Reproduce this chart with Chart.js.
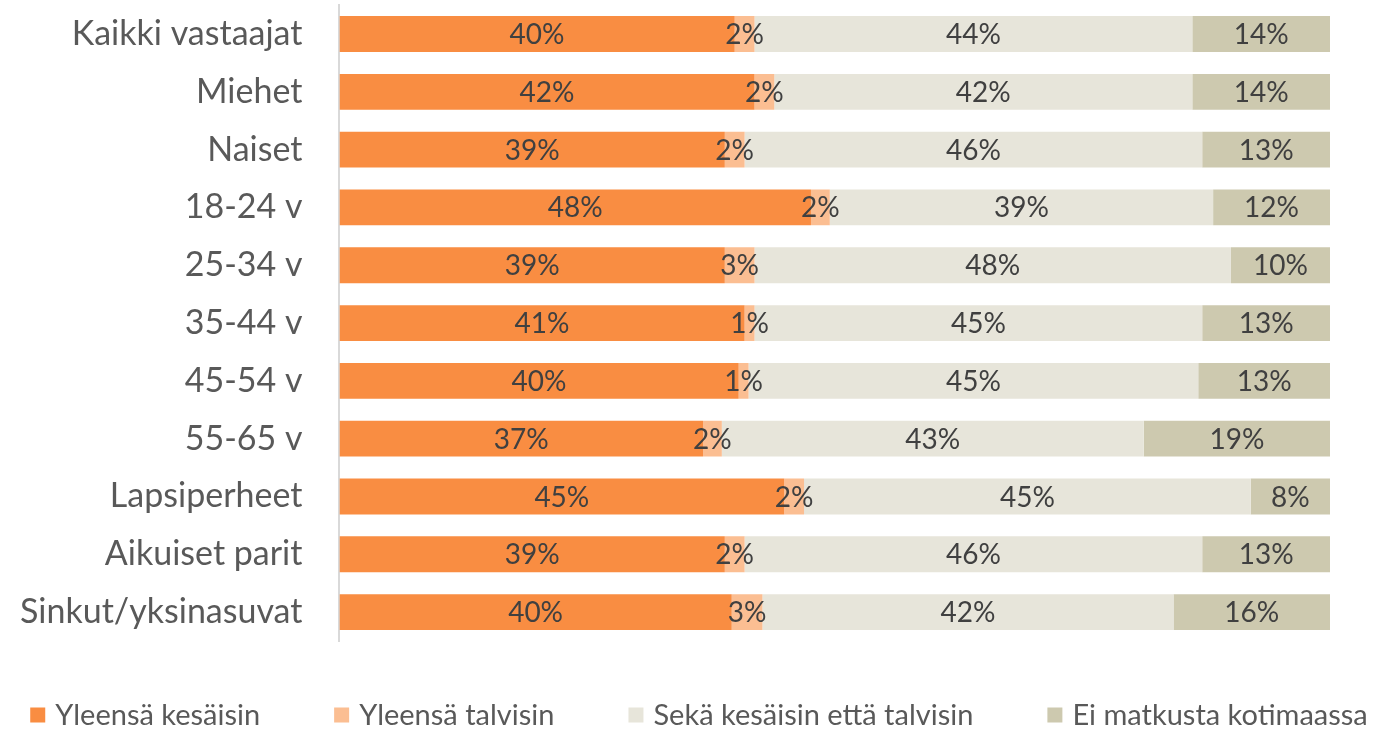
<!DOCTYPE html>
<html>
<head>
<meta charset="utf-8">
<script src="https://cdn.jsdelivr.net/npm/chart.js@4"></script>
<style>
  html, body { margin: 0; padding: 0; background: #fff; }
  #wrap { width: 1398px; height: 729px; position: relative; }
</style>
</head>
<body>
<div id="wrap"><canvas id="barChart"></canvas></div>
<script>
// categories (top to bottom)
const categories = ['Kaikki vastaajat', 'Miehet', 'Naiset', '18-24 v', '25-34 v', '35-44 v',
    '45-54 v', '55-65 v', 'Lapsiperheet', 'Aikuiset parit', 'Sinkut/yksinasuvat'];

// shares in %
const kesaisin  = [39.9, 41.9, 38.9, 47.6, 38.9, 40.9, 40.3, 36.7, 44.9, 38.9, 39.6];
const talvisin  = [2.0, 2.0, 2.0, 1.9, 3.0, 1.0, 1.0, 1.9, 2.0, 2.0, 3.1];
const molemmat  = [44.2, 42.2, 46.2, 38.7, 48.1, 45.2, 45.4, 42.6, 45.1, 46.2, 41.5];
const eiMatkusta = [13.9, 13.9, 12.9, 11.8, 10.0, 12.9, 13.3, 18.8, 8.0, 12.9, 15.8];

const seriesNames = ['Yleensä kesäisin', 'Yleensä talvisin', 'Sekä kesäisin että talvisin', 'Ei matkusta kotimaassa'];
const seriesColors = ['#F98D42', '#FBBE92', '#E7E5DA', '#CDC9AF'];

const FONT = 'Lato, "Open Sans", sans-serif';

// draws the % labels centred in each segment
const segmentLabels = {
    id: 'segmentLabels',
    afterDatasetsDraw(chart) {
        const ctx = chart.ctx;
        ctx.save();
        ctx.font = '28px ' + FONT;
        ctx.fillStyle = '#404040';
        ctx.textAlign = 'center';
        ctx.textBaseline = 'middle';
        chart.data.datasets.forEach((ds, i) => {
            const meta = chart.getDatasetMeta(i);
            meta.data.forEach((bar, j) => {
                const x = (bar.x + bar.base) / 2;
                ctx.fillText(Math.round(ds.data[j]) + '%', x, bar.y + 1);
            });
        });
        ctx.restore();
    }
};

// legend row at the bottom, items spread like the original
const bottomLegend = {
    id: 'bottomLegend',
    afterDraw(chart) {
        const ctx = chart.ctx;
        const box = 15, textGap = 10, itemGap = 74;
        const y = chart.height - 14;
        ctx.save();
        ctx.font = '29px ' + FONT;
        ctx.textBaseline = 'middle';
        ctx.textAlign = 'left';
        const widths = chart.data.datasets.map(ds => ctx.measureText(ds.label).width);
        let total = 0;
        widths.forEach(w => total += box + textGap + w);
        total += itemGap * (widths.length - 1);
        let x = (chart.width - total) / 2;
        chart.data.datasets.forEach((ds, i) => {
            ctx.fillStyle = ds.backgroundColor;
            ctx.fillRect(x, y - box / 2, box, box);
            ctx.fillStyle = '#595959';
            ctx.fillText(ds.label, x + box + textGap, y + 1);
            x += box + textGap + widths[i] + itemGap;
        });
        ctx.restore();
    }
};

const ctx = document.getElementById('barChart');

new Chart(ctx, {
    type: 'bar',
    data: {
        labels: categories,
        datasets: [
            { label: seriesNames[0], data: kesaisin, backgroundColor: seriesColors[0] },
            { label: seriesNames[1], data: talvisin, backgroundColor: seriesColors[1] },
            { label: seriesNames[2], data: molemmat, backgroundColor: seriesColors[2] },
            { label: seriesNames[3], data: eiMatkusta, backgroundColor: seriesColors[3] }
        ]
    },
    options: {
        indexAxis: 'y',
        responsive: true,
        maintainAspectRatio: false,
        animation: false,
        barPercentage: 1,
        categoryPercentage: 0.62,
        layout: {
            padding: { left: 20, right: 68, top: 0, bottom: 88 }
        },
        scales: {
            x: {
                stacked: true,
                min: 0,
                max: 100,
                display: false
            },
            y: {
                stacked: true,
                grid: { display: false, drawTicks: true, tickLength: 37 },
                border: { display: true, color: '#D9D9D9', width: 2 },
                ticks: {
                    color: '#595959',
                    font: { family: FONT, size: 34, lineHeight: 0.3 },
                    padding: 0
                }
            }
        },
        plugins: {
            legend: { display: false },
            tooltip: { enabled: false }
        }
    },
    plugins: [segmentLabels, bottomLegend]
});
</script>
</body>
</html>
